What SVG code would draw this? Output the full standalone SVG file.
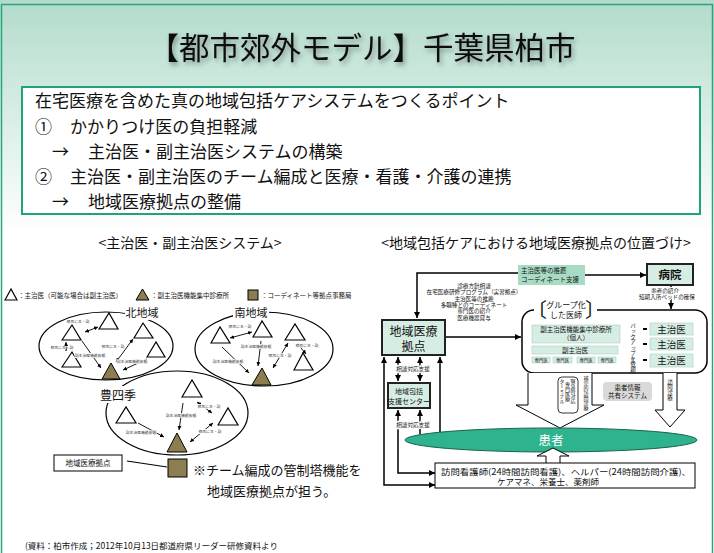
<svg xmlns="http://www.w3.org/2000/svg" width="714" height="553" viewBox="0 0 714 553">
<defs>
<linearGradient id="bg" x1="0" y1="0" x2="0" y2="1">
<stop offset="0" stop-color="#b2dbcb"/>
<stop offset="0.5" stop-color="#d9eee6"/>
<stop offset="1" stop-color="#ffffff"/>
</linearGradient>
<filter id="sh" x="-10%" y="-30%" width="120%" height="160%">
<feDropShadow dx="2" dy="3" stdDeviation="2.5" flood-color="#000" flood-opacity="0.35"/>
</filter>
<marker id="a" viewBox="0 0 6 6" refX="6" refY="3" markerWidth="4" markerHeight="4" markerUnits="userSpaceOnUse" orient="auto-start-reverse">
<path d="M0,0 L6,3 L0,6 z" fill="#000"/>
</marker>
<marker id="b" viewBox="0 0 6 6" refX="6" refY="3" markerWidth="6" markerHeight="6" markerUnits="userSpaceOnUse" orient="auto-start-reverse">
<path d="M0,0 L6,3 L0,6 z" fill="#000"/>
</marker>
</defs>
<style>
text{font-family:"Noto Sans CJK JP","Noto Sans",sans-serif;fill:#111}
.tri{fill:#fff;stroke:#000;stroke-width:1.2}
.ftri{fill:#8c7e50;stroke:#000;stroke-width:1}
.ell{fill:none;stroke:#000;stroke-width:1.2}
.la{stroke:#000;stroke-width:0.9;fill:none}
.tiny{font-size:3.8px;fill:#333;text-anchor:middle;paint-order:stroke;stroke:#fff;stroke-width:1.2px}
.leg{font-size:6.5px}
.big{font-size:17px}
.ln{stroke:#000;stroke-width:1.5;fill:none}
.box{fill:#d6ede3;stroke:#222;stroke-width:2}
.ibox{fill:#d6ede3;stroke:#a8cfbf;stroke-width:0.6}
.s6{font-size:5.6px;text-anchor:middle}
.mid{text-anchor:middle}
.wbg{paint-order:stroke;stroke:#fff;stroke-width:2px}
</style>

<rect width="714" height="553" fill="#fff"/>
<rect x="0" y="0" width="714" height="235" fill="url(#bg)"/>
<path d="M1.5,553 L1.5,4.5 L712.5,4.5 L712.5,553" fill="none" stroke="#29a67f" stroke-width="1.5"/>

<text x="362" y="59" font-size="30.5" class="mid" filter="url(#sh)" fill="#1a1a1a">【都市郊外モデル】千葉県柏市</text>

<g id="points">
<rect x="22" y="87" width="678" height="127" fill="#fff" stroke="#1fa37c" stroke-width="2"/>
<text x="35" y="107" class="big">在宅医療を含めた真の地域包括ケアシステムをつくるポイント</text>
<text x="35" y="133" class="big">①</text>
<text x="70" y="133" class="big">かかりつけ医の負担軽減</text>
<text x="52" y="158" class="big">→</text>
<text x="88" y="158" class="big">主治医・副主治医システムの構築</text>
<text x="35" y="183" class="big">②</text>
<text x="70" y="183" class="big">主治医・副主治医のチーム編成と医療・看護・介護の連携</text>
<text x="52" y="208" class="big">→</text>
<text x="88" y="208" class="big">地域医療拠点の整備</text>
</g>

<text x="190" y="248" font-size="14" class="mid">&lt;主治医・副主治医システム&gt;</text>
<text x="536" y="248" font-size="14" class="mid">&lt;地域包括ケアにおける地域医療拠点の位置づけ&gt;</text>

<!-- LEFT: legend -->
<g id="legend">
<polygon class="tri" points="5,300 11,289 17,300"/>
<text x="18" y="297.5" class="leg">：主治医（可能な場合は副主治医）</text>
<polygon class="ftri" points="136,300 142.5,289 149,300"/>
<text x="151" y="297.5" class="leg">：副主治医機能集中診療所</text>
<rect x="248" y="290" width="10" height="10" fill="#8c7e50" stroke="#000" stroke-width="1"/>
<text x="261" y="297.5" class="leg">：コーディネート等拠点事務局</text>
</g>

<g id="north">
<ellipse class="ell" cx="106" cy="346" rx="67" ry="34"/>
<rect x="125" y="306" width="35" height="14" fill="#fff"/>
<text x="142" y="317" font-size="11" class="mid">北地域</text>
<polygon class="tri" points="99,329 109,313 118,329"/>
<polygon class="tri" points="62,340 72,325 81,340"/>
<polygon class="tri" points="62,367 72,352 81,367"/>
<polygon class="tri" points="134,338 143,323 153,338"/>
<polygon class="tri" points="147,357 156,342 165,357"/>
<polygon class="ftri" points="102,379 111,363 120,379"/>
</g>
<g id="south">
<ellipse class="ell" cx="264" cy="349" rx="69" ry="37"/>
<rect x="233" y="306" width="36" height="14" fill="#fff"/>
<text x="251" y="317" font-size="11" class="mid">南地域</text>
<polygon class="tri" points="211,343 220,327 230,343"/>
<polygon class="tri" points="253,337 262,321 272,337"/>
<polygon class="tri" points="285,340 295,324 305,340"/>
<polygon class="tri" points="294,370 303,353 313,370"/>
<polygon class="ftri" points="252,385 262,368 271,385"/>
</g>
<g id="toyoshiki">
<ellipse class="ell" cx="177" cy="413" rx="71" ry="42"/>
<rect x="100" y="386" width="36" height="17" fill="#fff"/>
<text x="118" y="399.5" font-size="12" class="mid">豊四季</text>
<polygon class="tri" points="182,397 192,380 202,397"/>
<polygon class="tri" points="116,423 126,407 136,423"/>
<polygon class="tri" points="218,425 228,408 238,425"/>
<polygon class="ftri" points="167,452 177,433 187,452"/>
</g>

<g id="left-connectors">
<line class="la" x1="85" y1="332" x2="98" y2="327" marker-start="url(#a)" marker-end="url(#a)"/>
<line class="la" x1="66" y1="342" x2="66" y2="351" marker-start="url(#a)" marker-end="url(#a)"/>
<line class="la" x1="82" y1="341" x2="101" y2="368" marker-end="url(#a)"/>
<line class="la" x1="133" y1="339" x2="116" y2="362" marker-start="url(#a)" marker-end="url(#a)"/>
<line class="la" x1="147" y1="359" x2="123" y2="370" marker-end="url(#a)"/>
<line class="la" x1="230" y1="338" x2="252" y2="332" marker-start="url(#a)" marker-end="url(#a)"/>
<line class="la" x1="261" y1="341" x2="258" y2="366" marker-end="url(#a)"/>
<line class="la" x1="222" y1="347" x2="249" y2="373" marker-end="url(#a)"/>
<line class="la" x1="288" y1="343" x2="273" y2="368" marker-start="url(#a)" marker-end="url(#a)"/>
<line class="la" x1="297" y1="343" x2="306" y2="354" marker-start="url(#a)" marker-end="url(#a)"/>
<line class="la" x1="197" y1="402" x2="212" y2="413" marker-start="url(#a)" marker-end="url(#a)"/>
<line class="la" x1="183" y1="403" x2="179" y2="430" marker-end="url(#a)"/>
<line class="la" x1="138" y1="423" x2="164" y2="437" marker-end="url(#a)"/>
<line class="la" x1="213" y1="423" x2="190" y2="442" marker-start="url(#a)" marker-end="url(#a)"/>
<text x="78" y="323" class="tiny">相互に主・副</text>
<text x="62" y="348.5" class="tiny">相互に主・副</text>
<text x="90" y="357" class="tiny">副主治医機能依頼</text>
<text x="113" y="348" class="tiny">相互に主・副</text>
<text x="132" y="363" class="tiny">副主治医機能依頼</text>
<text x="240" y="328" class="tiny">相互に主・副</text>
<text x="256" y="348" class="tiny">副主治医機能依頼</text>
<text x="228" y="363" class="tiny">副主治医機能依頼</text>
<text x="280" y="357" class="tiny">相互に主・副</text>
<text x="307" y="347" class="tiny">相互に主・副</text>
<text x="209" y="408" class="tiny">相互に主・副</text>
<text x="181" y="417" class="tiny">副主治医機能依頼</text>
<text x="141" y="434" class="tiny">副主治医機能依頼</text>
<text x="210" y="433" class="tiny">相互に主・副</text>
</g>

<g id="kyoten-left">
<rect x="54" y="455" width="68" height="16" fill="#fff" stroke="#000" stroke-width="1"/>
<text x="88" y="466" font-size="7.5" class="mid">地域医療拠点</text>
<line x1="127" y1="461" x2="167" y2="467" stroke="#000" stroke-width="1.2"/>
<rect x="168" y="459" width="19" height="18" fill="#8c7e50" stroke="#000" stroke-width="1"/>
<text x="193" y="475" font-size="13">※チーム編成の管制塔機能を</text>
<text x="207" y="496" font-size="13">地域医療拠点が担う。</text>
</g>

<text x="25" y="549" font-size="8.5">(資料：柏市作成；2012年10月13日都道府県リーダー研修資料より</text>

<!-- RIGHT diagram -->
<g id="right-connectors">
<path class="ln" d="M518,273 L417,273 L417,318" marker-end="url(#b)"/>
<line class="ln" x1="585" y1="275" x2="646" y2="275" marker-end="url(#b)"/>
<line class="ln" x1="671" y1="286" x2="671" y2="309" marker-end="url(#b)"/>
<line class="ln" x1="445" y1="337" x2="521" y2="337" marker-end="url(#b)"/>
<line class="ln" x1="638" y1="329" x2="623" y2="329" marker-end="url(#b)"/>
<line class="ln" x1="638" y1="344" x2="623" y2="344" marker-end="url(#b)"/>
<line class="ln" x1="638" y1="360" x2="623" y2="360" marker-end="url(#b)"/>
<path class="ln" d="M435,485 L384,485 L384,357" marker-start="url(#b)" marker-end="url(#b)"/>
<line class="ln" x1="398" y1="381" x2="398" y2="357" marker-start="url(#b)" marker-end="url(#b)"/>
<line class="ln" x1="420" y1="381" x2="420" y2="357" marker-start="url(#b)" marker-end="url(#b)"/>
<path class="ln" d="M435,473 L398,473 L398,410" marker-start="url(#b)" marker-end="url(#b)"/>
<line class="ln" x1="420" y1="434" x2="420" y2="410" marker-end="url(#b)"/>
<line class="ln" x1="440" y1="432" x2="440" y2="357" marker-end="url(#b)"/>
<text x="413" y="371" class="s6 wbg">相談対応支援</text>
<text x="413" y="427" class="s6 wbg">相談対応支援</text>
<text x="474" y="288" class="s6">診療方針相談</text>
<text x="474" y="294.3" class="s6">在宅医療研修プログラム（実習拠点）</text>
<text x="474" y="300.6" class="s6">主治医等の推薦</text>
<text x="474" y="306.9" class="s6">多職種とのコーディネート</text>
<text x="474" y="313.2" class="s6">専門医の紹介</text>
<text x="474" y="319.5" class="s6">医療機器貸与</text>
<text x="665" y="293" class="s6 wbg">患者の紹介</text>
<text x="667" y="299" class="s6 wbg">短期入所ベッドの確保</text>
</g>

<g id="coordinate">
<rect x="518" y="265" width="67" height="20" fill="#a8dbc4"/>
<text x="521" y="273" font-size="6.5">主治医等の推薦</text>
<text x="521" y="281.5" font-size="6.5">コーディネート支援</text>
</g>
<g id="hospital">
<rect x="647" y="264" width="46" height="21" class="box"/>
<text x="670" y="279" font-size="11.5" class="mid" font-weight="bold">病院</text>
</g>
<g id="kyoten">
<rect x="382" y="320" width="63" height="35" class="box"/>
<text x="413.5" y="336" font-size="12" class="mid">地域医療</text>
<text x="413.5" y="351" font-size="12" class="mid">拠点</text>
</g>
<g id="houkatsu">
<rect x="388" y="383" width="42" height="25" class="box" stroke-width="1.5"/>
<text x="409" y="394" font-size="7" class="mid">地域包括</text>
<text x="409" y="403.5" font-size="7" class="mid">支援センター</text>
</g>

<g id="group">
<rect x="522" y="310" width="185" height="63" rx="12" fill="#fff" stroke="#000" stroke-width="1.5"/>
<rect x="534" y="300" width="63" height="20" fill="#fff"/>
<text x="527" y="317" font-size="20">〔</text>
<text x="585" y="317" font-size="20">〕</text>
<text x="566" y="308" font-size="8" class="mid">グループ化</text>
<text x="566" y="318" font-size="8" class="mid">した医師</text>
<rect x="532" y="325" width="88" height="18" class="ibox"/>
<text x="576" y="332" font-size="6.5" class="mid">副主治医機能集中診療所</text>
<text x="576" y="340" font-size="6.5" class="mid">（個人）</text>
<rect x="532" y="346" width="86" height="8" class="ibox"/>
<text x="575" y="352.5" font-size="6.5" class="mid">副主治医</text>
<rect x="532" y="357" width="18" height="6" class="ibox" stroke="#888"/>
<rect x="553" y="357" width="19" height="6" class="ibox" stroke="#888"/>
<rect x="577" y="357" width="18" height="6" class="ibox" stroke="#888"/>
<rect x="598" y="357" width="18" height="6" class="ibox" stroke="#888"/>
<text x="541" y="361.6" font-size="4.3" class="mid">専門医</text>
<text x="562.5" y="361.6" font-size="4.3" class="mid">専門医</text>
<text x="586" y="361.6" font-size="4.3" class="mid">専門医</text>
<text x="607" y="361.6" font-size="4.3" class="mid">専門医</text>
<text x="633" y="323" font-size="5.5" style="writing-mode:vertical-rl">バックアップを依頼</text>
<line x1="643" y1="329" x2="647" y2="329" stroke="#000" stroke-width="2"/>
<line x1="643" y1="344" x2="647" y2="344" stroke="#000" stroke-width="2"/>
<line x1="643" y1="360" x2="647" y2="360" stroke="#000" stroke-width="2"/>
<rect x="650" y="323" width="43" height="12" class="ibox" stroke="#999"/>
<rect x="650" y="338" width="43" height="12" class="ibox" stroke="#999"/>
<rect x="650" y="354" width="43" height="13" class="ibox" stroke="#999"/>
<text x="671.5" y="332.5" font-size="9.5" class="mid">主治医</text>
<text x="671.5" y="347.5" font-size="9.5" class="mid">主治医</text>
<text x="671.5" y="364" font-size="9.5" class="mid">主治医</text>
</g>

<g id="support-arrow">
<path d="M528,373 L528,405 L516,405 L560,428 L604,405 L592,405 L592,373" fill="#fff" stroke="#000" stroke-width="1"/>
<rect x="558" y="377" width="20" height="36" rx="4" fill="#fff" stroke="#000" stroke-width="0.8"/>
<text x="573" y="379" font-size="5" style="writing-mode:vertical-rl">緊急時対応</text>
<text x="567.5" y="382" font-size="5" style="writing-mode:vertical-rl">専門医療</text>
<text x="562" y="379" font-size="5" style="writing-mode:vertical-rl">ターミナル</text>
<text x="586" y="376" font-size="5" style="writing-mode:vertical-rl">補完的訪問診療</text>
</g>
<g id="share">
<rect x="603" y="382" width="49" height="19" rx="4" fill="#d9d9d9"/>
<text x="627.5" y="389.5" font-size="6.5" class="mid">患者情報</text>
<text x="627.5" y="397.5" font-size="6.5" class="mid">共有システム</text>
</g>
<g id="visit-arrow">
<path d="M663,373 L663,410 L655,410 L670,427 L685,410 L677,410 L677,373" fill="#fff" stroke="#000" stroke-width="1"/>
<text x="670" y="379" font-size="5.5" style="writing-mode:vertical-rl">訪問診療</text>
</g>
<g id="patient">
<ellipse cx="551" cy="440" rx="146" ry="12" fill="#2eb38e" stroke="#17634d" stroke-width="1"/>
<text x="551" y="444.5" font-size="12.5" class="mid" style="fill:#fff">患者</text>
</g>
<g id="up-arrow">
<path d="M546,463 L546,456 L537,456 L553,448 L569,456 L560,456 L560,463" fill="#fff" stroke="#000" stroke-width="1"/>
</g>
<g id="homecare">
<rect x="435" y="463" width="260" height="25" fill="#fff" stroke="#000" stroke-width="1"/>
<text x="566" y="474.5" font-size="8.5" class="mid" textLength="250" lengthAdjust="spacingAndGlyphs">訪問看護師(24時間訪問看護)、ヘルパー(24時間訪問介護)、</text>
<text x="548" y="485" font-size="8.5" class="mid">ケアマネ、栄養士、薬剤師</text>
</g>
</svg>
